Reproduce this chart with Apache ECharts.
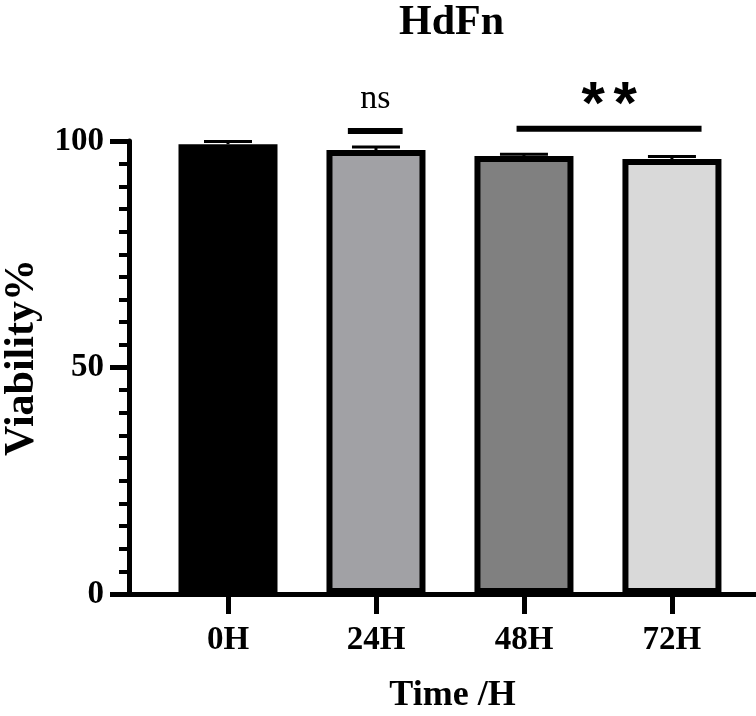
<!DOCTYPE html>
<html>
<head>
<meta charset="utf-8">
<script src="https://cdn.jsdelivr.net/npm/echarts@6/dist/echarts.min.js"></script>
<style>
  html, body { margin: 0; padding: 0; background: #fff; }
  #main { width: 756px; height: 716px; }
</style>
</head>
<body>
<div id="main"></div>
<script>
// data
const categories = ['0H', '24H', '48H', '72H'];
const means = [99.3, 98.0, 96.7, 96.0];
const errors = [0.6, 0.7, 0.4, 0.6];
const barColors = ['#000000', '#a1a1a5', '#808080', '#d9d9d9'];
const yTicks = [0, 50, 100];

// significance marks: label, from/to (category position), level (y value)
const sigLabels = ['ns', '**'];
const sigFrom = [0.81, 1.95];
const sigTo = [1.18, 3.2];
const sigLevel = [102.2, 102.7];

const serif = 'Liberation Serif';
const catIdx = categories.map((c, i) => i);

const chart = echarts.init(document.getElementById('main'), null, { renderer: 'canvas' });

const option = {
  backgroundColor: '#fff',
  animation: false,
  title: {
    text: 'HdFn',
    left: 394,
    top: -3,
    textStyle: { fontFamily: serif, fontWeight: 'bold', fontSize: 42, color: '#000' }
  },
  grid: { left: 129, right: 0, top: 141, bottom: 122, outerBoundsMode: 'none' },
  xAxis: {
    type: 'value',
    min: -0.669,
    max: 3.568,
    splitLine: { show: false },
    axisLine: { show: true, onZero: false, lineStyle: { color: '#000', width: 5 } },
    axisTick: { show: true, customValues: catIdx, length: 20, lineStyle: { color: '#000', width: 5 } },
    axisLabel: {
      customValues: catIdx,
      formatter: v => categories[Math.round(v)],
      margin: 30,
      fontFamily: serif, fontWeight: 'bold', fontSize: 33, color: '#000'
    },
    name: 'Time /H',
    nameLocation: 'middle',
    nameGap: 84,
    nameTextStyle: { fontFamily: serif, fontWeight: 'bold', fontSize: 36, color: '#000', padding: [0, 0, 0, 20] }
  },
  yAxis: {
    type: 'value',
    min: 0,
    max: 100,
    interval: 50,
    splitLine: { show: false },
    axisLine: { show: true, onZero: false, lineStyle: { color: '#000', width: 5 } },
    axisTick: { show: true, length: 19, lineStyle: { color: '#000', width: 5 } },
    minorTick: { show: true, splitNumber: 10, length: 10, lineStyle: { color: '#000', width: 4 } },
    axisLabel: {
      margin: 25,
      formatter: v => (yTicks.indexOf(v) >= 0 ? String(v) : ''),
      fontFamily: serif, fontWeight: 'bold', fontSize: 33, color: '#000'
    },
    name: 'Viability%',
    nameLocation: 'middle',
    nameGap: 82,
    nameRotate: 90,
    nameTextStyle: { fontFamily: serif, fontWeight: 'bold', fontSize: 42, color: '#000', padding: [0, 0, 0, 20] }
  },
  series: [
    {
      type: 'bar',
      barWidth: 99,
      z: 2,
      data: means.map((m, i) => ({
        value: [i, m],
        itemStyle: { color: barColors[i], borderColor: '#000', borderWidth: 6 }
      }))
    },
    {
      // error bars (upper only)
      type: 'custom',
      z: 3,
      data: means.map((m, i) => [i, m, errors[i]]),
      renderItem: function (params, api) {
        const x = api.value(0);
        const top = api.coord([x, api.value(1) + api.value(2)]);
        const base = api.coord([x, api.value(1)]);
        const half = 24;
        const st = { stroke: '#000', lineWidth: 3 };
        return {
          type: 'group',
          children: [
            { type: 'line', shape: { x1: base[0], y1: base[1], x2: top[0], y2: top[1] }, style: st },
            { type: 'line', shape: { x1: top[0] - half, y1: top[1], x2: top[0] + half, y2: top[1] }, style: st }
          ]
        };
      }
    },
    {
      // significance bars
      type: 'custom',
      z: 4,
      data: sigLabels.map((s, i) => [sigFrom[i], sigTo[i], sigLevel[i], i]),
      renderItem: function (params, api) {
        const i = api.value(3);
        const a = api.coord([api.value(0), api.value(2)]);
        const b = api.coord([api.value(1), api.value(2)]);
        const label = sigLabels[i];
        const isStar = label.indexOf('*') >= 0;
        const cx = (a[0] + b[0]) / 2;
        const children = [
          { type: 'line', shape: { x1: a[0], y1: a[1], x2: b[0], y2: b[1] }, style: { stroke: '#000', lineWidth: 6 } }
        ];
        if (isStar) {
          const step = 32;
          const chars = label.split('');
          chars.forEach((ch, k) => {
            children.push({
              type: 'text',
              style: {
                x: cx + (k - (chars.length - 1) / 2) * step,
                y: a[1] - 22,
                text: ch,
                align: 'center',
                verticalAlign: 'middle',
                fill: '#000',
                font: 'bold 60px "Liberation Sans"'
              }
            });
          });
        } else {
          children.push({
            type: 'text',
            style: {
              x: cx, y: a[1] - 32, text: label,
              align: 'center', verticalAlign: 'middle', fill: '#000',
              font: '34px "Liberation Serif"'
            }
          });
        }
        return { type: 'group', children: children };
      }
    }
  ]
};

chart.setOption(option);
</script>
</body>
</html>
